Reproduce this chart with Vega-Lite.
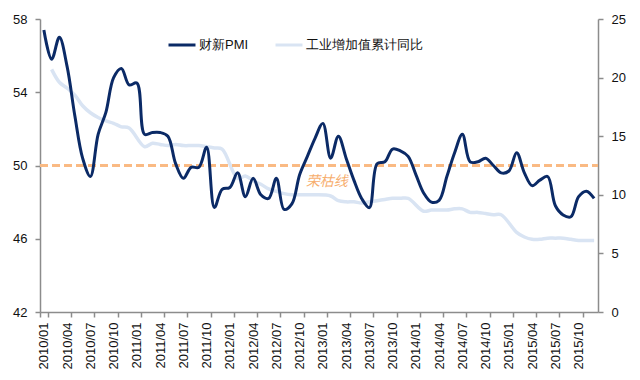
{
  "$schema": "https://vega.github.io/schema/vega-lite/v6.json",
  "width": 558,
  "height": 293,
  "autosize": {"type": "none"},
  "padding": {"left": 40, "top": 19, "right": 42, "bottom": 68},
  "background": "white",
  "config": {
    "view": {"stroke": null},
    "font": "Liberation Sans",
    "axis": {
      "labelFont": "Liberation Sans",
      "labelFontSize": 13,
      "labelColor": "#111111",
      "domainColor": "#8C8C8C",
      "domainWidth": 1.5,
      "tickColor": "#8C8C8C",
      "tickWidth": 1.5,
      "tickSize": 5,
      "grid": false,
      "title": null
    },
    "legend": {"labelFont": "Liberation Sans"}
  },
  "data": {
    "values": [
      {"month": "2010/01", "pmi": 57.4, "iva": null},
      {"month": "2010/02", "pmi": 55.8, "iva": 20.7},
      {"month": "2010/03", "pmi": 57.0, "iva": 19.6},
      {"month": "2010/04", "pmi": 55.4, "iva": 19.1},
      {"month": "2010/05", "pmi": 52.7, "iva": 18.5},
      {"month": "2010/06", "pmi": 50.4, "iva": 17.6},
      {"month": "2010/07", "pmi": 49.4, "iva": 17.0},
      {"month": "2010/08", "pmi": 51.7, "iva": 16.6},
      {"month": "2010/09", "pmi": 52.9, "iva": 16.3},
      {"month": "2010/10", "pmi": 54.8, "iva": 16.1},
      {"month": "2010/11", "pmi": 55.3, "iva": 15.8},
      {"month": "2010/12", "pmi": 54.4, "iva": 15.7},
      {"month": "2011/01", "pmi": 54.5, "iva": null},
      {"month": "2011/02", "pmi": 51.7, "iva": 14.1},
      {"month": "2011/03", "pmi": 51.8, "iva": 14.4},
      {"month": "2011/04", "pmi": 51.8, "iva": 14.3},
      {"month": "2011/05", "pmi": 51.6, "iva": 14.2},
      {"month": "2011/06", "pmi": 50.1, "iva": 14.3},
      {"month": "2011/07", "pmi": 49.3, "iva": 14.2},
      {"month": "2011/08", "pmi": 49.9, "iva": 14.2},
      {"month": "2011/09", "pmi": 49.9, "iva": 14.2},
      {"month": "2011/10", "pmi": 51.0, "iva": 14.1},
      {"month": "2011/11", "pmi": 47.7, "iva": 14.0},
      {"month": "2011/12", "pmi": 48.7, "iva": 13.9},
      {"month": "2012/01", "pmi": 48.8, "iva": null},
      {"month": "2012/02", "pmi": 49.6, "iva": 11.4},
      {"month": "2012/03", "pmi": 48.3, "iva": 11.6},
      {"month": "2012/04", "pmi": 49.3, "iva": 11.2},
      {"month": "2012/05", "pmi": 48.4, "iva": 10.9},
      {"month": "2012/06", "pmi": 48.2, "iva": 10.5},
      {"month": "2012/07", "pmi": 49.3, "iva": 10.3},
      {"month": "2012/08", "pmi": 47.6, "iva": 10.1},
      {"month": "2012/09", "pmi": 47.9, "iva": 10.0},
      {"month": "2012/10", "pmi": 49.5, "iva": 10.0},
      {"month": "2012/11", "pmi": 50.5, "iva": 10.0},
      {"month": "2012/12", "pmi": 51.5, "iva": 10.0},
      {"month": "2013/01", "pmi": 52.3, "iva": null},
      {"month": "2013/02", "pmi": 50.4, "iva": 9.9},
      {"month": "2013/03", "pmi": 51.6, "iva": 9.5},
      {"month": "2013/04", "pmi": 50.4, "iva": 9.4},
      {"month": "2013/05", "pmi": 49.2, "iva": 9.4},
      {"month": "2013/06", "pmi": 48.2, "iva": 9.3},
      {"month": "2013/07", "pmi": 47.7, "iva": 9.4},
      {"month": "2013/08", "pmi": 50.1, "iva": 9.5},
      {"month": "2013/09", "pmi": 50.2, "iva": 9.6},
      {"month": "2013/10", "pmi": 50.9, "iva": 9.7},
      {"month": "2013/11", "pmi": 50.8, "iva": 9.7},
      {"month": "2013/12", "pmi": 50.5, "iva": 9.7},
      {"month": "2014/01", "pmi": 49.5, "iva": null},
      {"month": "2014/02", "pmi": 48.5, "iva": 8.6},
      {"month": "2014/03", "pmi": 48.0, "iva": 8.7},
      {"month": "2014/04", "pmi": 48.1, "iva": 8.7},
      {"month": "2014/05", "pmi": 49.4, "iva": 8.7},
      {"month": "2014/06", "pmi": 50.7, "iva": 8.8},
      {"month": "2014/07", "pmi": 51.7, "iva": 8.8},
      {"month": "2014/08", "pmi": 50.2, "iva": 8.5},
      {"month": "2014/09", "pmi": 50.2, "iva": 8.5},
      {"month": "2014/10", "pmi": 50.4, "iva": 8.4},
      {"month": "2014/11", "pmi": 50.0, "iva": 8.3},
      {"month": "2014/12", "pmi": 49.6, "iva": 8.3},
      {"month": "2015/01", "pmi": 49.7, "iva": null},
      {"month": "2015/02", "pmi": 50.7, "iva": 6.8},
      {"month": "2015/03", "pmi": 49.6, "iva": 6.4},
      {"month": "2015/04", "pmi": 48.9, "iva": 6.2},
      {"month": "2015/05", "pmi": 49.2, "iva": 6.2},
      {"month": "2015/06", "pmi": 49.4, "iva": 6.3},
      {"month": "2015/07", "pmi": 47.8, "iva": 6.3},
      {"month": "2015/08", "pmi": 47.3, "iva": 6.3},
      {"month": "2015/09", "pmi": 47.2, "iva": 6.2},
      {"month": "2015/10", "pmi": 48.3, "iva": 6.1},
      {"month": "2015/11", "pmi": 48.6, "iva": 6.1},
      {"month": "2015/12", "pmi": 48.2, "iva": 6.1}
    ]
  },
  "encoding": {
    "x": {
      "field": "month",
      "type": "ordinal",
      "bandPosition": 0.5,
      "scale": {"type": "band", "paddingInner": 0, "paddingOuter": 0},
      "axis": {
        "values": ["2010/01","2010/04","2010/07","2010/10","2011/01","2011/04","2011/07","2011/10","2012/01","2012/04","2012/07","2012/10","2013/01","2013/04","2013/07","2013/10","2014/01","2014/04","2014/07","2014/10","2015/01","2015/04","2015/07","2015/10"],
        "tickBand": "extent",
        "labelAngle": 270,
        "labelAlign": "right",
        "labelBaseline": "middle",
        "labelPadding": 5
      }
    }
  },
  "layer": [
    {
      "transform": [{"filter": "isValid(datum.iva)"}],
      "mark": {"type": "line", "interpolate": "catmull-rom", "strokeWidth": 3.5},
      "encoding": {
        "y": {
          "field": "iva",
          "type": "quantitative",
          "scale": {"domain": [0, 25], "nice": false, "zero": false},
          "axis": {"orient": "right", "values": [0, 5, 10, 15, 20, 25], "labelPadding": 8}
        },
        "color": {
          "datum": "工业增加值累计同比",
          "type": "nominal",
          "scale": {"domain": ["财新PMI", "工业增加值累计同比"], "range": ["#0B2A66", "#D9E4F3"]},
          "legend": {
            "orient": "none",
            "legendX": 127,
            "legendY": 11,
            "direction": "horizontal",
            "title": null,
            "padding": 0,
            "symbolType": "stroke",
            "symbolSize": 729,
            "symbolStrokeWidth": 3,
            "labelFontSize": 13,
            "labelColor": "#111111",
            "labelOffset": 2,
            "columnPadding": 20
          }
        }
      }
    },
    {
      "layer": [
        {
          "mark": {"type": "rule", "color": "#F9BA83", "strokeWidth": 1.8, "strokeDash": [8, 4]},
          "encoding": {
            "x": {"value": 0},
            "x2": {"value": 558},
            "y": {"datum": 50, "type": "quantitative"}
          }
        },
        {
          "data": {"values": [{"month": "2013/01", "v": 49.1, "label": "荣枯线"}]},
          "mark": {"type": "text", "fontStyle": "italic", "fontSize": 14, "color": "#F7AE6E", "align": "center", "baseline": "middle", "dx": 4, "font": "Noto Sans CJK SC"},
          "encoding": {
            "y": {"field": "v", "type": "quantitative"},
            "text": {"field": "label"}
          }
        },
        {
          "mark": {"type": "line", "interpolate": "catmull-rom", "strokeWidth": 3},
          "encoding": {
            "y": {
              "field": "pmi",
              "type": "quantitative",
              "scale": {"domain": [42, 58], "nice": false, "zero": false},
              "axis": {"orient": "left", "values": [42, 46, 50, 54, 58], "labelPadding": 8}
            },
            "color": {"datum": "财新PMI", "type": "nominal"}
          }
        }
      ]
    }
  ],
  "resolve": {"scale": {"y": "independent"}}
}
